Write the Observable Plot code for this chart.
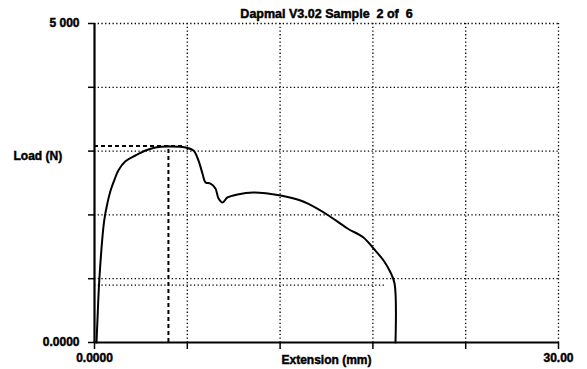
<!DOCTYPE html>
<html>
<head>
<meta charset="utf-8">
<script src="https://cdn.jsdelivr.net/npm/d3@7"></script>
<script src="https://cdn.jsdelivr.net/npm/@observablehq/plot@0.6"></script>
<style>
  html, body { margin: 0; padding: 0; background: #fff; }
  #chart svg { display: block; }
  #chart svg text { font-weight: 700; font-family: "Liberation Sans", Arial, sans-serif; stroke: #000; stroke-width: 0.45px; }
</style>
</head>
<body>
<div id="chart"></div>
<script>
// ---- data ----
const titleText = "Dapmal V3.02 Sample \u00a02 of \u00a06";
const xLabel = "Extension (mm)";
const yLabel = "Load (N)";
const xDomain = [0, 30];
const yDomain = [0, 5000];
const xGrid = [6, 12, 18, 24, 30];
const yGrid = [1000, 2000, 3000, 4000, 5000];
const xTickLabels = {0: "0.0000", 30: "30.00"};
const yTickLabels = {0: "0.0000", 5000: "5 000"};

const extension = [0.13, 0.19, 0.32, 0.62, 0.85, 1.05, 1.29, 1.55, 2.00, 2.65, 3.30, 3.94, 4.78, 5.88, 6.40, 6.72, 6.98, 7.18, 7.50, 7.82, 8.02, 8.28, 8.60, 9.25, 10.28, 11.19, 12.03, 13.32, 13.77, 15.13, 16.36, 17.39, 18.04, 18.69, 19.14, 19.40, 19.46];
const load = [0, 345, 1019, 1900, 2200, 2390, 2550, 2700, 2840, 2931, 3009, 3056, 3072, 3056, 3009, 2853, 2649, 2508, 2492, 2414, 2257, 2195, 2273, 2320, 2351, 2335, 2304, 2226, 2179, 1991, 1787, 1646, 1473, 1285, 1097, 925, 0];

const peakExtension = 4.78;
const peakLoad = 3080;
const peakLineEnd = 5.9;
const thresholdLoad = 900;
const thresholdEnd = 18.9;

// ---- chart ----
const font = "Liberation Sans, Arial, sans-serif";
const idx = d3.range(extension.length);

const chart = Plot.plot({
  width: 587,
  height: 369,
  marginLeft: 94,
  marginRight: 29,
  marginTop: 23,
  marginBottom: 27,
  style: {fontFamily: font, fontSize: "12px", fontWeight: "bold", background: "#fff", color: "#000"},
  x: {domain: xDomain},
  y: {domain: yDomain},
  marks: [
    Plot.gridX(xGrid, {stroke: "#000", strokeOpacity: 1, strokeWidth: 1.3, strokeDasharray: "1.3,2.4"}),
    Plot.gridY(yGrid, {stroke: "#000", strokeOpacity: 1, strokeWidth: 1.3, strokeDasharray: "1.3,2.4"}),
    Plot.ruleY([thresholdLoad], {x1: 0, x2: thresholdEnd, stroke: "#000", strokeWidth: 1.3, strokeDasharray: "1.3,2.4"}),
    Plot.ruleY([peakLoad], {x1: 0, x2: peakLineEnd, stroke: "#000", strokeWidth: 2, strokeDasharray: "4,3"}),
    Plot.ruleX([peakExtension], {y1: 0, y2: peakLoad, stroke: "#000", strokeWidth: 2, strokeDasharray: "4,3"}),
    Plot.axisX([0, ...xGrid], {
      tickSize: 7, tickPadding: 4, strokeWidth: 1.5,
      tickFormat: d => xTickLabels[d] ?? "",
      fontSize: 12, fontWeight: "bold",
      label: xLabel, labelAnchor: "center", labelOffset: 21, labelArrow: false
    }),
    Plot.axisY([0, ...yGrid], {
      tickSize: 6, tickPadding: 9, strokeWidth: 1.5,
      tickFormat: d => yTickLabels[d] ?? "",
      fontSize: 12, fontWeight: "bold",
      label: null
    }),
    Plot.ruleX([0], {stroke: "#000", strokeWidth: 2.2}),
    Plot.ruleY([0], {stroke: "#000", strokeWidth: 2.2}),
    Plot.line(idx, {x: i => extension[i], y: i => load[i], stroke: "#000", strokeWidth: 2, curve: "catmull-rom"}),
    Plot.text([yLabel], {frameAnchor: "left", textAnchor: "start", dx: -81, dy: -27, fontSize: 12, fontWeight: "bold"}),
    Plot.text([titleText], {frameAnchor: "top", dy: -14, fontSize: 12.5, fontWeight: "bold"})
  ]
});
document.getElementById("chart").append(chart);
</script>
</body>
</html>
